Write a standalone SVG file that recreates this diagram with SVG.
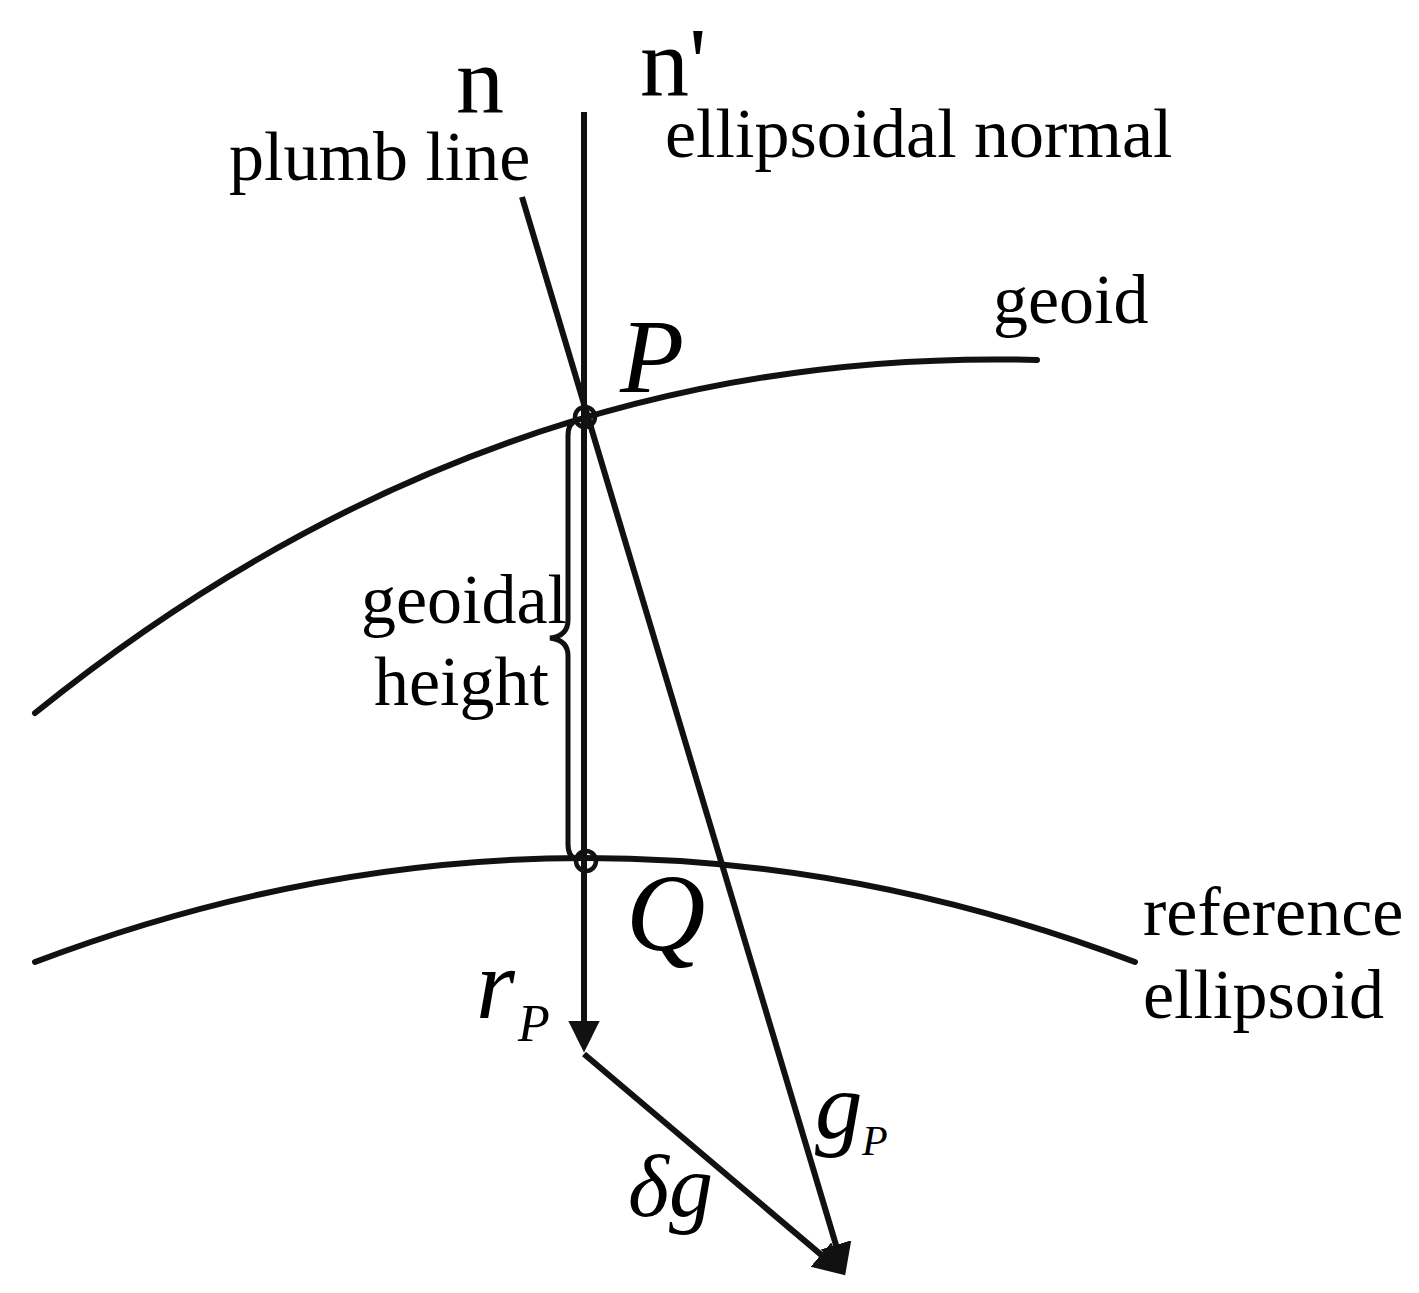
<svg xmlns="http://www.w3.org/2000/svg" width="1419" height="1293" viewBox="0 0 1419 1293">
<style>
.ln{fill:none;stroke:#111;stroke-width:6;stroke-linecap:round}
.br{fill:none;stroke:#111;stroke-width:5}
.pt{fill:none;stroke:#111;stroke-width:4.5}
.t{font-family:"Liberation Serif","Times New Roman",serif;fill:#000}
.i{font-family:"Liberation Serif","Times New Roman",serif;font-style:italic;fill:#000}
</style>
<defs>
<marker id="ah" markerUnits="userSpaceOnUse" markerWidth="34" markerHeight="34" viewBox="0 0 32 32" refX="24" refY="15" orient="auto">
<path d="M0,0 L30,15 L0,30 z" fill="#111"/>
</marker>
</defs>
<rect width="1419" height="1293" fill="#fff"/>
<g id="curves">
<path id="geoid-curve" class="ln" d="M35,713 Q491,345 1037,360"/>
<path id="ellipsoid-curve" class="ln" d="M35,962 Q585,754 1135,962"/>
</g>
<g id="connectors">
<line class="ln" x1="584" y1="112" x2="584" y2="1046" marker-end="url(#ah)" style="stroke-linecap:butt"/>
<line class="ln" x1="522" y1="197" x2="843.3" y2="1269.3" marker-end="url(#ah)" style="stroke-linecap:butt"/>
<line class="ln" x1="584" y1="1054" x2="840.4" y2="1271.1" marker-end="url(#ah)" style="stroke-linecap:butt"/>
<path id="brace" class="br" d="M578,420 Q568,422 568,436 L568,620 Q568,636 550,638 Q568,640 568,656 L568,844 Q568,858 578,860"/>
</g>
<g id="P"><circle class="pt" cx="585" cy="417" r="10"/><text class="i" x="620" y="392" font-size="105">P</text></g>
<g id="Q"><circle class="pt" cx="586" cy="861" r="10"/><text class="i" x="626" y="950" font-size="110">Q</text></g>
<g id="labels">
<text class="t" x="456" y="113" font-size="96">n</text>
<text class="t" x="640" y="95" font-size="98">n'</text>
<text class="t" x="229" y="180" font-size="70">plumb line</text>
<text class="t" x="665" y="157" font-size="70">ellipsoidal normal</text>
<text class="t" x="993" y="323" font-size="70">geoid</text>
<text class="t" x="361" y="623" font-size="70">geoidal</text>
<text class="t" x="374" y="705" font-size="70">height</text>
<text class="t" x="1143" y="935" font-size="70">reference</text>
<text class="t" x="1143" y="1018" font-size="70">ellipsoid</text>
<text class="i" x="476" y="1018" font-size="100">r</text>
<text class="i" x="518" y="1041" font-size="52">P</text>
<text class="i" x="815" y="1138" font-size="95">g</text>
<text class="i" x="862" y="1155" font-size="42">P</text>
<text class="i" x="628" y="1216" font-size="88">δg</text>
</g>
</svg>
